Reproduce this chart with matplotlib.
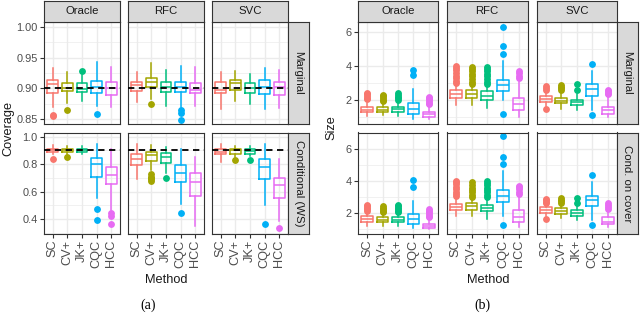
import matplotlib
matplotlib.use("Agg")
import matplotlib.pyplot as plt
from matplotlib.ticker import FormatStrFormatter, FixedLocator

plt.rcParams['font.family'] = ['Liberation Sans', 'DejaVu Sans']

methods = ["SC", "CV+", "JK+", "CQC", "HCC"]
classifiers = ["Oracle", "RFC", "SVC"]
colors = ["#F8766D", "#A3A500", "#00BF7D", "#00B0F6", "#E76BF3"]

# one box per method: (whisker low, q1, median, q3, whisker high, outliers)
cov_marg_oracle = [
    (0.869, 0.892, 0.907, 0.913, 0.933, [0.856, 0.855]),
    (0.876, 0.895, 0.901, 0.909, 0.926, [0.864]),
    (0.880, 0.894, 0.899, 0.908, 0.921, [0.928]),
    (0.872, 0.892, 0.903, 0.912, 0.943, [0.858]),
    (0.869, 0.889, 0.901, 0.910, 0.935, []),
]
cov_marg_rfc = [
    (0.878, 0.895, 0.905, 0.911, 0.927, []),
    (0.883, 0.902, 0.911, 0.917, 0.941, [0.875]),
    (0.872, 0.894, 0.903, 0.911, 0.930, []),
    (0.870, 0.894, 0.903, 0.911, 0.937, [0.864, 0.860, 0.849]),
    (0.871, 0.892, 0.897, 0.909, 0.934, []),
]
cov_marg_svc = [
    (0.867, 0.892, 0.898, 0.910, 0.927, []),
    (0.880, 0.898, 0.908, 0.914, 0.928, []),
    (0.875, 0.893, 0.900, 0.909, 0.924, []),
    (0.867, 0.891, 0.903, 0.914, 0.933, []),
    (0.868, 0.889, 0.903, 0.911, 0.930, []),
]
cov_cond_oracle = [
    (0.871, 0.888, 0.903, 0.912, 0.939, [0.840]),
    (0.876, 0.888, 0.900, 0.912, 0.932, [0.852]),
    (0.871, 0.888, 0.900, 0.910, 0.932, []),
    (0.556, 0.709, 0.800, 0.847, 0.949, [0.476, 0.394]),
    (0.464, 0.653, 0.721, 0.781, 0.907, [0.447, 0.423, 0.367]),
]
cov_cond_rfc = [
    (0.689, 0.794, 0.835, 0.871, 0.949, []),
    (0.755, 0.823, 0.864, 0.891, 0.937, [0.725, 0.710, 0.700, 0.690, 0.680]),
    (0.738, 0.811, 0.852, 0.883, 0.925, [0.696]),
    (0.507, 0.670, 0.738, 0.791, 0.907, [0.442]),
    (0.350, 0.568, 0.672, 0.738, 0.852, []),
]
cov_cond_svc = [
    (0.815, 0.871, 0.891, 0.907, 0.944, []),
    (0.854, 0.876, 0.900, 0.912, 0.932, [0.830]),
    (0.859, 0.876, 0.895, 0.907, 0.932, [0.830]),
    (0.500, 0.689, 0.779, 0.835, 0.944, [0.367]),
    (0.386, 0.551, 0.648, 0.701, 0.835, [0.333]),
]

size_marg_oracle = [
    (1.09, 1.34, 1.45, 1.60, 1.87, [2.06, 2.15, 2.25, 2.35, 2.45]),
    (1.12, 1.34, 1.45, 1.60, 1.85, [1.96, 2.05, 2.15, 2.25, 2.33]),
    (1.09, 1.34, 1.48, 1.61, 1.95, [2.02, 2.12, 2.22, 2.32, 2.42]),
    (0.94, 1.23, 1.52, 1.87, 2.64, [3.47, 3.80]),
    (0.94, 1.03, 1.19, 1.34, 1.70, [1.77, 1.87, 1.97, 2.07, 2.15, 2.22]),
]
size_marg_rfc = [
    (1.71, 2.12, 2.35, 2.58, 2.95, [3.03, 3.15, 3.30, 3.45, 3.60, 3.75, 3.90, 4.00]),
    (1.71, 2.12, 2.35, 2.58, 2.90, [2.95, 3.10, 3.25, 3.40, 3.55, 3.70, 3.85, 3.93]),
    (1.58, 2.02, 2.28, 2.54, 2.90, [2.95, 3.10, 3.25, 3.40, 3.55, 3.70, 3.85, 3.97]),
    (2.00, 2.55, 2.90, 3.22, 4.28, [6.27, 5.19, 4.71, 1.23]),
    (1.00, 1.44, 1.77, 2.12, 3.10, [3.31, 3.45, 3.60, 3.73]),
]
size_marg_svc = [
    (1.70, 1.92, 2.10, 2.25, 2.55, [2.62, 2.72, 2.82, 1.52]),
    (1.52, 1.83, 1.98, 2.14, 2.50, [2.60, 2.70, 2.80, 2.88]),
    (1.44, 1.73, 1.88, 2.02, 2.40, [2.60, 2.93]),
    (1.45, 2.25, 2.65, 2.97, 3.70, [4.13, 1.13]),
    (1.03, 1.23, 1.45, 1.61, 2.20, [2.35, 2.45, 2.55, 2.60]),
]
size_cond_oracle = [
    (1.17, 1.44, 1.62, 1.79, 2.05, [2.15, 2.25, 2.35, 2.45, 2.54]),
    (1.19, 1.44, 1.58, 1.75, 2.00, [2.06, 2.15, 2.25, 2.35, 2.44]),
    (1.19, 1.44, 1.58, 1.75, 1.98, [2.05, 2.15, 2.25, 2.35, 2.45, 2.52]),
    (1.06, 1.29, 1.60, 1.96, 2.79, [3.63, 4.08]),
    (1.00, 1.06, 1.20, 1.33, 1.70, [1.75, 1.85, 1.95, 2.05, 2.15, 2.27]),
]
size_cond_rfc = [
    (1.79, 2.21, 2.40, 2.58, 2.95, [3.05, 3.20, 3.35, 3.50, 3.65, 3.80, 3.95, 4.04]),
    (1.85, 2.21, 2.44, 2.63, 2.95, [3.02, 3.15, 3.30, 3.45, 3.60, 3.75, 3.94]),
    (1.65, 2.13, 2.35, 2.54, 2.95, [3.02, 3.15, 3.30, 3.45, 3.60, 3.75, 3.90, 4.04]),
    (1.85, 2.69, 3.10, 3.48, 4.67, [6.81, 5.54, 5.08, 1.27]),
    (1.13, 1.44, 1.75, 2.17, 3.10, [3.21, 3.35, 3.50, 3.65, 3.73]),
]
size_cond_svc = [
    (1.85, 2.02, 2.21, 2.38, 2.55, [2.62, 2.72, 2.82, 2.90, 1.65]),
    (1.71, 1.96, 2.12, 2.31, 2.58, [2.63, 2.73, 2.83, 2.94]),
    (1.58, 1.85, 2.00, 2.17, 2.50, [2.65, 2.96]),
    (1.55, 2.44, 2.85, 3.10, 3.94, [4.40, 1.23]),
    (1.13, 1.29, 1.45, 1.75, 2.20, [2.27, 2.40, 2.52, 2.63]),
]

W, H = 640, 314
fig = plt.figure(figsize=(W / 100, H / 100), dpi=100)


def rect(x0, y0, x1, y1):
    return [x0 / W, 1 - y1 / H, (x1 - x0) / W, (y1 - y0) / H]


def strip(x0, y0, x1, y1, label, rot=0):
    s = fig.add_axes(rect(x0, y0, x1, y1))
    s.set_facecolor("#D9D9D9")
    s.set_xticks([])
    s.set_yticks([])
    for sp in s.spines.values():
        sp.set_color("#333333")
        sp.set_linewidth(0.8)
    s.text(0.5, 0.5, label, rotation=rot, ha="center", va="center",
           fontsize=8.2, color="#1A1A1A", transform=s.transAxes)


def draw_panel(ax, boxes, ylim, major, minor, fmt, hline, left, bottom):
    for i, (lo, q1, med, q3, hi, out) in enumerate(boxes):
        st = dict(whislo=lo, q1=q1, med=med, q3=q3, whishi=hi, fliers=out)
        c = colors[i]
        ax.bxp([st], positions=[i + 1], widths=0.75, showcaps=False,
               manage_ticks=False,
               boxprops=dict(color=c, lw=1.1),
               medianprops=dict(color=c, lw=1.1),
               whiskerprops=dict(color=c, lw=1.1),
               flierprops=dict(marker="o", markerfacecolor=c, markeredgecolor=c,
                               markersize=3.9, linestyle="none"))
    ax.set_xlim(0.4, 5.6)
    ax.set_ylim(*ylim)
    ax.set_xticks(range(1, 6))
    ax.yaxis.set_major_locator(FixedLocator(major))
    ax.yaxis.set_minor_locator(FixedLocator(minor))
    ax.set_axisbelow(True)
    ax.grid(which="major", color="#EBEBEB", lw=1.0)
    ax.grid(which="minor", axis="y", color="#EBEBEB", lw=0.5)
    for sp in ax.spines.values():
        sp.set_color("#333333")
        sp.set_linewidth(0.8)
    if hline is not None:
        ax.axhline(hline, color="black", ls=(0, (3.5, 2.5)), lw=1.3, zorder=5)
    ax.yaxis.set_major_formatter(FormatStrFormatter(fmt))
    ax.tick_params(axis="both", which="major", length=3, width=0.8, color="#333333",
                   labelsize=7.9, labelcolor="#4D4D4D", pad=1.5)
    ax.tick_params(axis="x", labelsize=9.2, pad=1.2)
    ax.tick_params(axis="y", which="minor", length=0)
    ax.tick_params(axis="y", left=left, labelleft=left)
    ax.tick_params(axis="x", bottom=bottom, labelbottom=bottom)
    if bottom:
        ax.set_xticklabels(methods, rotation=90)
    else:
        ax.set_xticklabels([])


rows = [(22, 124), (132.5, 234)]

# (a) coverage
cols_a = [(44, 120), (128, 204), (212, 288)]
cov_rows = [[cov_marg_oracle, cov_marg_rfc, cov_marg_svc],
            [cov_cond_oracle, cov_cond_rfc, cov_cond_svc]]
cov_spec = [((0.842, 1.008), [0.85, 0.90, 0.95, 1.00], [0.875, 0.925, 0.975], "%.2f"),
            ((0.292, 1.03), [0.4, 0.6, 0.8, 1.0], [0.3, 0.5, 0.7, 0.9], "%.1f")]
for r, (y0, y1) in enumerate(rows):
    for c, (x0, x1) in enumerate(cols_a):
        ax = fig.add_axes(rect(x0, y0, x1, y1))
        lim, maj, mnr, fmt = cov_spec[r]
        draw_panel(ax, cov_rows[r][c], lim, maj, mnr, fmt, 0.9, c == 0, r == 1)
for c, (x0, x1) in enumerate(cols_a):
    strip(x0, 1, x1, 22, classifiers[c])
strip(288, rows[0][0], 309, rows[0][1], "Marginal", -90)
strip(288, rows[1][0], 309, rows[1][1], "Conditional (WS)", -90)
fig.text(8 / W, 1 - 128 / H, "Coverage", rotation=90, ha="center", va="center",
         fontsize=9.2, color="#1A1A1A")
fig.text(166 / W, 1 - 280 / H, "Method", ha="center", va="center",
         fontsize=9.2, color="#1A1A1A")
fig.text(148 / W, 1 - 305 / H, "(a)", ha="center", va="center",
         fontsize=10, family="Liberation Serif")

# (b) size
cols_b = [(358, 438), (446.5, 528), (536.5, 617)]
size_rows = [[size_marg_oracle, size_marg_rfc, size_marg_svc],
             [size_cond_oracle, size_cond_rfc, size_cond_svc]]
size_spec = [((0.62, 6.58), [2, 4, 6], [1, 3, 5], "%d"),
             ((0.69, 7.06), [2, 4, 6], [1, 3, 5, 7], "%d")]
for r, (y0, y1) in enumerate(rows):
    for c, (x0, x1) in enumerate(cols_b):
        ax = fig.add_axes(rect(x0, y0, x1, y1))
        lim, maj, mnr, fmt = size_spec[r]
        draw_panel(ax, size_rows[r][c], lim, maj, mnr, fmt, None, c == 0, r == 1)
for c, (x0, x1) in enumerate(cols_b):
    strip(x0, 1, x1, 22, classifiers[c])
strip(617, rows[0][0], 638, rows[0][1], "Marginal", -90)
strip(617, rows[1][0], 638, rows[1][1], "Cond. on cover", -90)
fig.text(331 / W, 1 - 128 / H, "Size", rotation=90, ha="center", va="center",
         fontsize=9.2, color="#1A1A1A")
fig.text(488 / W, 1 - 280 / H, "Method", ha="center", va="center",
         fontsize=9.2, color="#1A1A1A")
fig.text(482 / W, 1 - 305 / H, "(b)", ha="center", va="center",
         fontsize=10, family="Liberation Serif")

fig.savefig("out.png", dpi=100)
